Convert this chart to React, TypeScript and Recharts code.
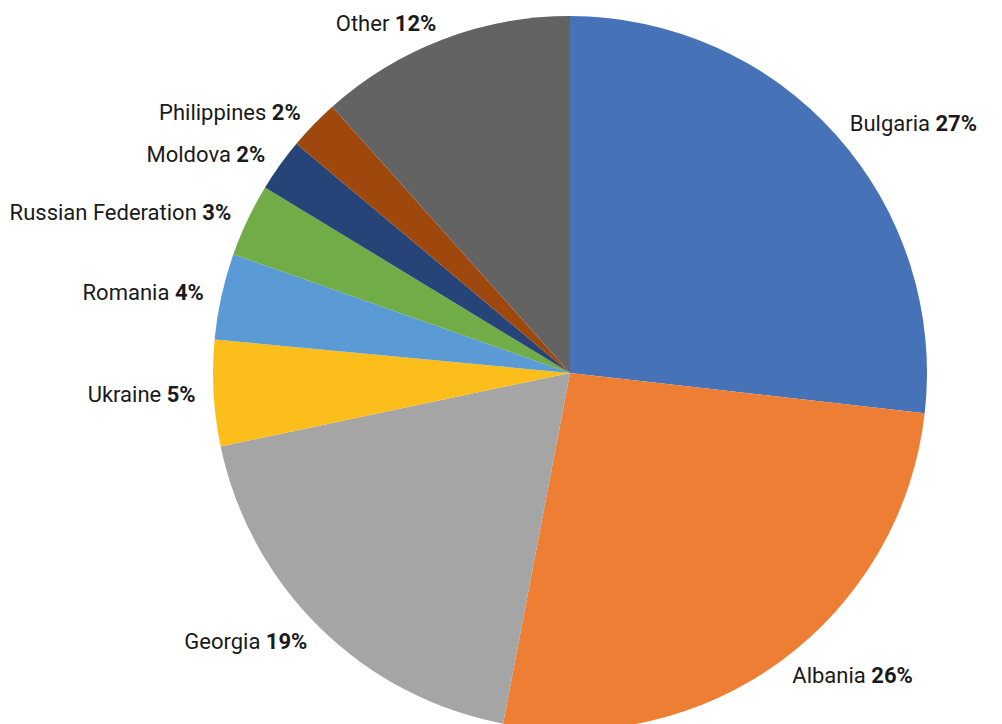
import { PieChart, Pie, Cell } from 'recharts';

const countries = [
  'Bulgaria',
  'Albania',
  'Georgia',
  'Ukraine',
  'Romania',
  'Russian Federation',
  'Moldova',
  'Philippines',
  'Other',
];
const shares = [26.8, 26.2, 18.7, 4.8, 3.9, 3.3, 2.4, 2.3, 11.6];
const sliceColors = [
  '#4672B8',
  '#EE7E33',
  '#A5A5A5',
  '#FCBE1A',
  '#5B9BD5',
  '#70AD47',
  '#264478',
  '#9E480E',
  '#636363',
];

const data = countries.map((name, i) => ({ name, value: shares[i] }));

const RAD = Math.PI / 180;

function renderLabel(props: any) {
  const { cx, cy, midAngle, outerRadius, name, value } = props;
  const r = outerRadius + 18;
  const x = cx + r * Math.cos(-midAngle * RAD);
  const y = cy + r * Math.sin(-midAngle * RAD);
  const anchor = x > cx ? 'start' : 'end';
  return (
    <text
      x={x}
      y={y}
      textAnchor={anchor}
      dominantBaseline="central"
      fontFamily="Roboto, sans-serif"
      fontSize={22}
      fill="#1a1a1a"
    >
      <tspan>{name} </tspan>
      <tspan fontWeight="bold">{Math.round(value)}%</tspan>
    </text>
  );
}

export default function App() {
  return (
    <div style={{ position: 'absolute', left: 0, top: 0, width: 1002, height: 724, background: '#fff' }}>
      <PieChart width={1002} height={724} margin={{ top: 0, right: 0, bottom: 0, left: 0 }}>
        <Pie
          data={data}
          dataKey="value"
          nameKey="name"
          cx={570}
          cy={373}
          outerRadius={357}
          startAngle={90}
          endAngle={-270}
          stroke="none"
          label={renderLabel}
          labelLine={false}
          isAnimationActive={false}
        >
          {data.map((d, i) => (
            <Cell key={d.name} fill={sliceColors[i]} />
          ))}
        </Pie>
      </PieChart>
    </div>
  );
}
